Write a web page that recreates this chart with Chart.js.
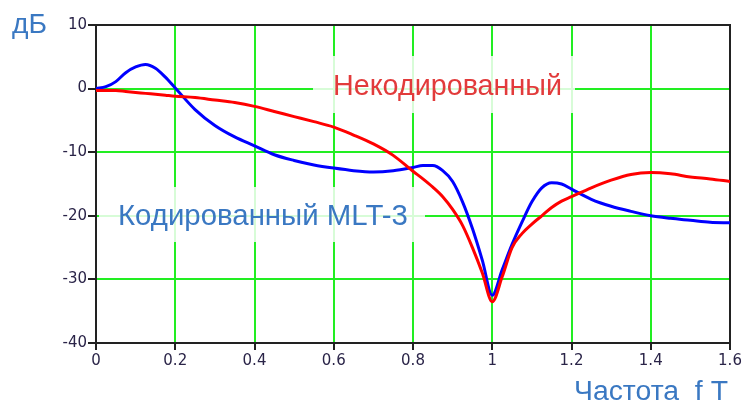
<!DOCTYPE html>
<html>
<head>
<meta charset="utf-8">
<script src="https://cdn.jsdelivr.net/npm/chart.js@4"></script>
<style>
html,body{margin:0;padding:0;background:#fff;}
#wrap{width:744px;height:406px;position:relative;}
</style>
</head>
<body>
<div id="wrap"><canvas id="c" width="744" height="406"></canvas></div>
<script>
// ---- data ----
const freq = [0, 0.025, 0.05, 0.075, 0.1, 0.125, 0.15, 0.175, 0.2, 0.25, 0.3, 0.35, 0.4, 0.45, 0.5, 0.55, 0.6, 0.65, 0.7, 0.75, 0.8, 0.825, 0.85, 0.875, 0.9, 0.925, 0.95, 0.975, 1.0, 1.025, 1.05, 1.075, 1.1, 1.125, 1.15, 1.175, 1.2, 1.25, 1.3, 1.35, 1.4, 1.45, 1.5, 1.55, 1.6];
const codedDb = [0, 0.3, 1.1, 2.5, 3.4, 3.8, 3.2, 1.8, 0.1, -3.3, -5.8, -7.6, -9.0, -10.4, -11.3, -12.0, -12.5, -12.9, -13.1, -12.9, -12.4, -12.1, -12.1, -12.9, -14.6, -17.8, -22.0, -27.0, -32.5, -28.5, -24.5, -21.0, -17.8, -15.6, -14.8, -15.0, -15.8, -17.4, -18.5, -19.3, -20.0, -20.4, -20.7, -21.0, -21.1];
const uncodedDb = [-0.3, -0.3, -0.3, -0.45, -0.6, -0.75, -0.9, -1.05, -1.2, -1.4, -1.8, -2.2, -2.8, -3.6, -4.4, -5.2, -6.05, -7.3, -8.7, -10.5, -13.0, -14.2, -15.5, -17.0, -19.0, -21.5, -25.0, -29.0, -33.5, -29.6, -25.0, -22.8, -21.3, -20.0, -18.7, -17.7, -17.0, -15.6, -14.4, -13.5, -13.2, -13.4, -13.9, -14.2, -14.6];
const xTicks = [0, 0.2, 0.4, 0.6, 0.8, 1, 1.2, 1.4, 1.6];
const yTicks = [10, 0, -10, -20, -30, -40];
const codedLabel = 'Кодированный MLT-3';
const uncodedLabel = 'Некодированный';
const yUnit = 'дБ';
const xTitle = 'Частота  f T';

const toPts = arr => freq.map((f, i) => ({x: f, y: arr[i]}));

const decor = {
  id: 'decor',
  beforeDatasetsDraw(chart) {
    const ctx = chart.ctx, a = chart.chartArea;
    ctx.save();
    ctx.fillStyle = 'rgba(255,255,255,0.82)';
    ctx.fillRect(313, 56, 262, 57);
    ctx.fillRect(99, 187, 326, 55);
    ctx.strokeStyle = '#222';
    ctx.lineWidth = 2;
    ctx.beginPath();
    ctx.moveTo(a.left, a.top); ctx.lineTo(a.right, a.top); ctx.lineTo(a.right, a.bottom);
    ctx.stroke();
    ctx.restore();
  },
  afterDraw(chart) {
    const ctx = chart.ctx;
    ctx.save();
    ctx.textBaseline = 'alphabetic';
    ctx.textAlign = 'left';
    const fit = (txt, x, y, w, size, color) => {
      ctx.font = size + 'px "Liberation Sans", Arial, sans-serif';
      const m = ctx.measureText(txt).width;
      const s = size * w / m;
      ctx.font = s.toFixed(2) + 'px "Liberation Sans", Arial, sans-serif';
      ctx.fillStyle = color;
      ctx.fillText(txt, x, y);
    };
    fit(uncodedLabel, 333, 95, 229, 26, '#e23b3b');
    fit(codedLabel, 118, 225, 290, 26, '#3a78c2');
    fit(yUnit, 12, 33, 35, 21, '#3a78c2');
    fit(xTitle, 574, 400, 154, 25, '#3a78c2');
    ctx.restore();
  }
};

new Chart(document.getElementById('c'), {
  type: 'line',
  data: {
    datasets: [
      {label: uncodedLabel, data: toPts(uncodedDb), borderColor: '#ff0000', borderWidth: 3, pointRadius: 0, cubicInterpolationMode: 'monotone', fill: false},
      {label: codedLabel, data: toPts(codedDb), borderColor: '#0000ff', borderWidth: 3, pointRadius: 0, cubicInterpolationMode: 'monotone', fill: false}
    ]
  },
  options: {
    responsive: false,
    animation: false,
    layout: {padding: {left: 0, top: 25, right: 14, bottom: 0}},
    plugins: {legend: {display: false}, tooltip: {enabled: false}},
    scales: {
      x: {
        type: 'linear', min: 0, max: 1.6,
        afterBuildTicks: s => { s.ticks = xTicks.map(v => ({value: v})); },
        afterFit: s => { s.height = 63; },
        ticks: {color: '#2a2448', font: {family: '"DejaVu Sans", sans-serif', size: 15}, padding: 2, maxRotation: 0,
          callback: v => String(+v.toFixed(1))},
        grid: {color: '#22ee22', lineWidth: 2, tickLength: 7, tickColor: '#222'},
        border: {display: true, color: '#222', width: 2}
      },
      y: {
        min: -40, max: 10,
        afterBuildTicks: s => { s.ticks = yTicks.map(v => ({value: v})); },
        afterFit: s => { s.width = 96; },
        ticks: {color: '#2a2448', font: {family: '"DejaVu Sans", sans-serif', size: 15}, padding: 1,
          callback: v => String(v)},
        grid: {color: '#22ee22', lineWidth: 2, tickLength: 8, tickColor: '#222'},
        border: {display: true, color: '#222', width: 2}
      }
    }
  },
  plugins: [decor]
});
</script>
</body>
</html>
